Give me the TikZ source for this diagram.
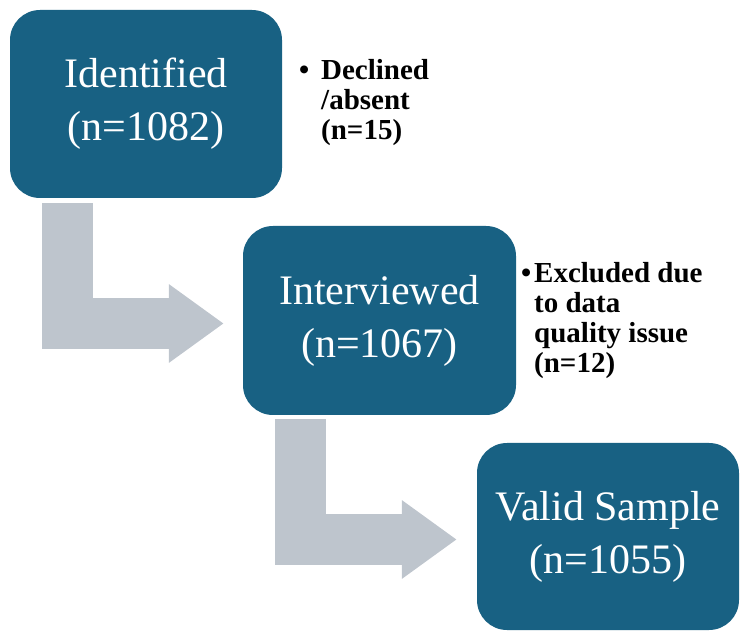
\documentclass[tikz,border=0pt]{standalone}
\usepackage{fontspec}
\setmainfont{Liberation Serif}
\usepackage{xcolor}
\usetikzlibrary{arrows.meta,positioning}
\definecolor{stepblue}{HTML}{186183}
\definecolor{arrowgray}{HTML}{BEC5CD}
\tikzset{
  stagebox/.style={fill=stepblue, text=white, rounded corners=30pt, align=center,
    inner sep=0pt, font=\fontsize{42}{53}\selectfont},
  flowarrow/.style={draw=arrowgray, line width=51pt,
    -{Triangle[length=55pt,width=75pt]}},
  notetext/.style={anchor=base west, align=left, inner sep=0pt,
    font=\fontsize{29}{30}\selectfont\bfseries}
}

\begin{document}
\begin{tikzpicture}[x=1pt,y=-1pt]

  \useasboundingbox (0,0) rectangle (740,631);

  \node[stagebox, minimum width=272pt, minimum height=188pt] at (146,104)   (identified) {Identified\\(n=1082)};
  \node[stagebox, minimum width=273pt, minimum height=189pt] at (379.5,320.5) (interviewed) {Interviewed\\(n=1067)};
  \node[stagebox, minimum width=262pt, minimum height=187pt] at (608,536.5) (valid) {Valid Sample\\(n=1055)};

  \draw[flowarrow] ([xshift=57.5pt,yshift=-5pt]identified.south west) |- ([xshift=-19pt,yshift=-3pt]interviewed.west);
  \draw[flowarrow] ([xshift=57.5pt,yshift=-4pt]interviewed.south west) |- ([xshift=-20pt,yshift=-3pt]valid.west);

  % base west sits on the last line
  \node[notetext] at (321,140) (declined) {\llap{\textbullet\hspace{12pt}}Declined\\/absent\\(n=15)};
  \node[notetext] at (534,373) (excluded) {\llap{\textbullet\hspace{3pt}}Excluded due\\to data\\quality issue\\(n=12)};

\end{tikzpicture}
\end{document}
